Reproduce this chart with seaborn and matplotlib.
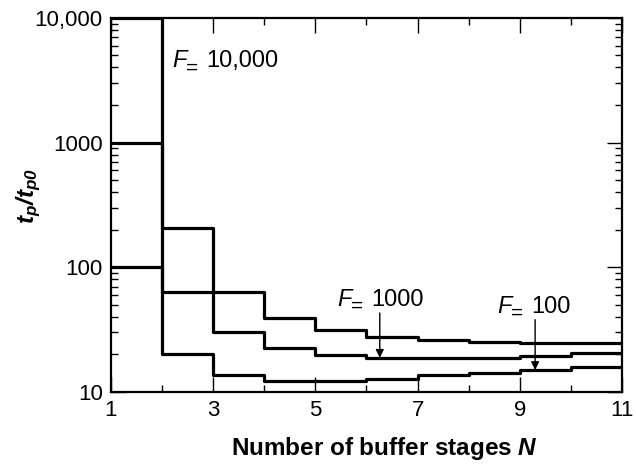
import seaborn as sns
import matplotlib.pyplot as plt
import matplotlib.ticker as mticker
import pandas as pd

# values (t_p / t_p0 for N = 1..10 buffer stages)
stages = [1, 2, 3, 4, 5, 6, 7, 8, 9, 10]
f10000 = [10000, 205, 63, 39.5, 31.4, 27.7, 26.1, 25.1, 24.5, 24.5]
f1000 = [1000, 63, 30.5, 22.4, 19.8, 18.8, 18.8, 18.9, 19.4, 20.6]
f100 = [100, 20, 13.7, 12.3, 12.3, 12.8, 13.6, 14.2, 15.0, 15.9]
y_ticks = [10, 100, 1000, 10000]
y_labels = ["10", "100", "1000", "10,000"]
x_ticks = [1, 3, 5, 7, 9, 11]

sns.set_style("ticks")
plt.rcParams["font.family"] = ["Liberation Sans", "DejaVu Sans"]
plt.rcParams["text.color"] = "black"
plt.rcParams["axes.labelcolor"] = "black"
plt.rcParams["mathtext.fontset"] = "custom"
plt.rcParams["mathtext.rm"] = "Liberation Sans"
plt.rcParams["mathtext.it"] = "Liberation Sans:italic"
plt.rcParams["mathtext.bf"] = "Liberation Sans:bold:italic"

# long-form table; the last value is repeated at N = 11 so the final step reaches the edge
rows = []
for name, vals in [("10000", f10000), ("1000", f1000), ("100", f100)]:
    for n, v in zip(stages + [stages[-1] + 1], vals + [vals[-1]]):
        rows.append({"N": n, "ratio": v, "F": name})
df = pd.DataFrame(rows)

fig = plt.figure(figsize=(6.36, 4.70), dpi=100)
ax = fig.add_axes([0.1745, 0.166, 0.8035, 0.796])

sns.lineplot(data=df, x="N", y="ratio", hue="F", palette=["black"] * 3,
             drawstyle="steps-post", lw=2.3, legend=False, ax=ax)

ax.set_yscale("log")
ax.set_xlim(1, 11)
ax.set_ylim(10, 10000)
ax.set_xticks(x_ticks)
ax.xaxis.set_minor_locator(mticker.FixedLocator([2, 4, 6, 8, 10]))
ax.set_yticks(y_ticks)
ax.yaxis.set_major_formatter(mticker.FixedFormatter(y_labels))
ax.yaxis.set_minor_locator(mticker.LogLocator(base=10, subs=range(2, 10)))
ax.yaxis.set_minor_formatter(mticker.NullFormatter())

ax.tick_params(which="both", direction="in", top=True, right=True,
               width=1, labelsize=16, colors="black")
ax.tick_params(which="major", length=11, pad=6)
ax.tick_params(which="minor", length=5)
for s in ax.spines.values():
    s.set_linewidth(1.6)
    s.set_color("black")

ax.set_xlabel(r"Number of buffer stages $\mathbf{N}$", fontsize=17.5,
              fontweight="bold")
ax.xaxis.set_label_coords(0.536, -0.116)
ax.set_ylabel(r"$\mathbf{t_p/t_{p0}}$", fontsize=17.5)
ax.yaxis.set_label_coords(-0.133, 0.524)


def curve_label(x, y, value):
    # italic F, a lowered "=", then the value
    ax.annotate("F", (x, y), fontsize=17, style="italic", va="baseline")
    ax.annotate("=", (x, y), xytext=(10.5, -4.5), textcoords="offset points",
                fontsize=15, va="baseline")
    ax.annotate(value, (x, y), xytext=(24.5, 0), textcoords="offset points",
                fontsize=17, va="baseline")


curve_label(2.19, 4000, "10,000")
curve_label(5.42, 49, "1000")
curve_label(8.55, 43, "100")

ax.annotate("", xy=(6.26, f1000[5]), xytext=(6.26, 43),
            arrowprops=dict(arrowstyle="-|>", color="black", lw=1,
                            mutation_scale=12, shrinkA=0, shrinkB=0))
ax.annotate("", xy=(9.3, f100[8]), xytext=(9.3, 38),
            arrowprops=dict(arrowstyle="-|>", color="black", lw=1,
                            mutation_scale=12, shrinkA=0, shrinkB=0))

plt.savefig("out.png", dpi=100)
plt.close()
